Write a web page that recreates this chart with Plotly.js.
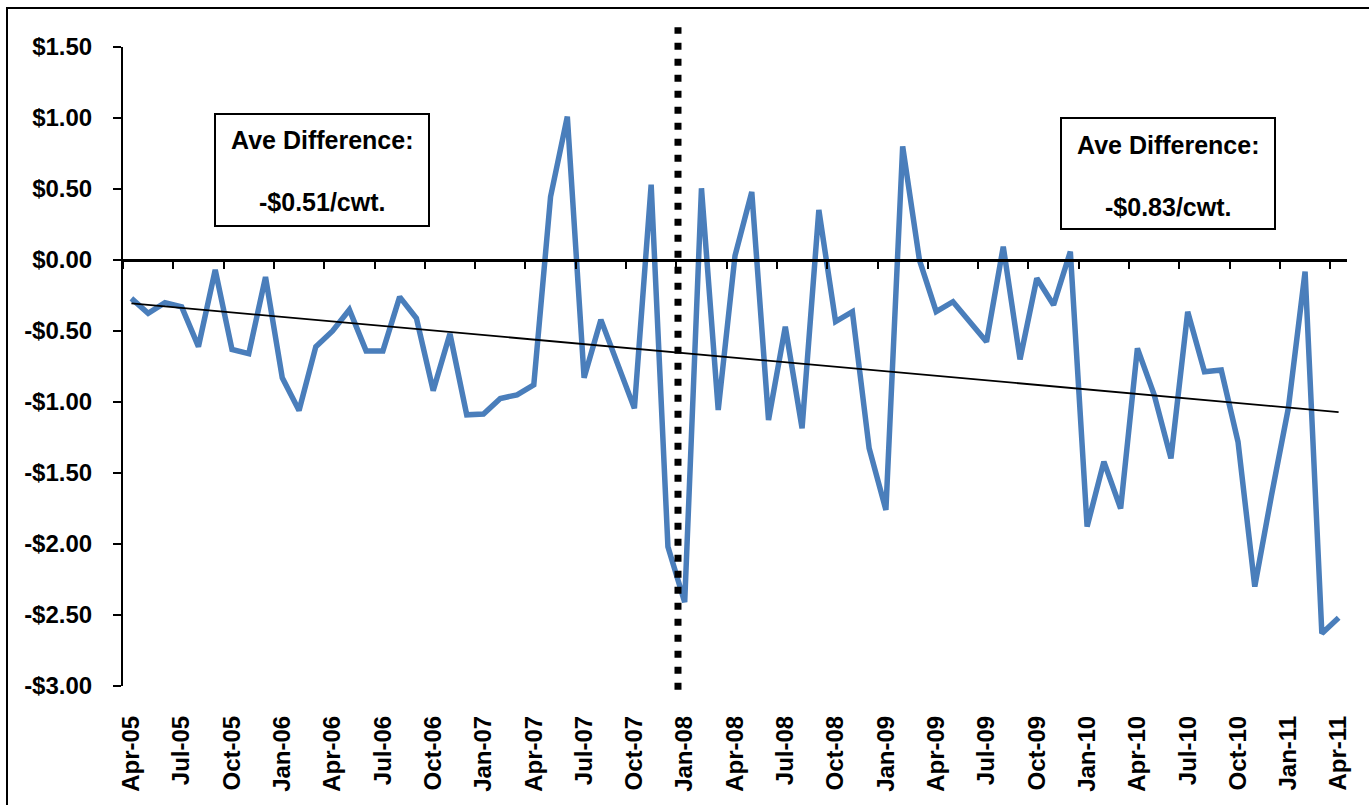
<!DOCTYPE html>
<html>
<head>
<meta charset="utf-8">
<script src="https://cdn.plot.ly/plotly-3.0.1.min.js"></script>
<style>html,body{margin:0;padding:0;background:#fff;}</style>
</head>
<body>
<div id="chart" style="width:1369px;height:805px;"></div>
<script>
// Months Apr-05 .. Apr-11
const months = [
  "Apr-05","May-05","Jun-05","Jul-05","Aug-05","Sep-05","Oct-05","Nov-05","Dec-05",
  "Jan-06","Feb-06","Mar-06","Apr-06","May-06","Jun-06","Jul-06","Aug-06","Sep-06","Oct-06","Nov-06","Dec-06",
  "Jan-07","Feb-07","Mar-07","Apr-07","May-07","Jun-07","Jul-07","Aug-07","Sep-07","Oct-07","Nov-07","Dec-07",
  "Jan-08","Feb-08","Mar-08","Apr-08","May-08","Jun-08","Jul-08","Aug-08","Sep-08","Oct-08","Nov-08","Dec-08",
  "Jan-09","Feb-09","Mar-09","Apr-09","May-09","Jun-09","Jul-09","Aug-09","Sep-09","Oct-09","Nov-09","Dec-09",
  "Jan-10","Feb-10","Mar-10","Apr-10","May-10","Jun-10","Jul-10","Aug-10","Sep-10","Oct-10","Nov-10","Dec-10",
  "Jan-11","Feb-11","Mar-11","Apr-11"
];
// Price difference, $/cwt
const diffValues = [
  -0.27, -0.375, -0.30, -0.33, -0.61, -0.07, -0.63, -0.66, -0.12,
  -0.83, -1.06, -0.61, -0.50, -0.35, -0.64, -0.64, -0.26, -0.41, -0.92, -0.52, -1.09,
  -1.085, -0.975, -0.95, -0.88, 0.445, 1.01, -0.83, -0.42, -0.73, -1.045, 0.53, -2.02,
  -2.41, 0.505, -1.056, 0.03, 0.48, -1.127, -0.47, -1.185, 0.352, -0.434, -0.364, -1.326,
  -1.76, 0.80, 0.0, -0.364, -0.294, -0.434, -0.575, 0.094, -0.70, -0.129, -0.317, 0.059,
  -1.878, -1.42, -1.75, -0.622, -0.95, -1.397, -0.364, -0.787, -0.775, -1.28, -2.30, -1.655,
  -1.045, -0.082, -2.63, -2.52
];
const xTickLabels = ["Apr-05","Jul-05","Oct-05","Jan-06","Apr-06","Jul-06","Oct-06","Jan-07","Apr-07",
  "Jul-07","Oct-07","Jan-08","Apr-08","Jul-08","Oct-08","Jan-09","Apr-09","Jul-09","Oct-09",
  "Jan-10","Apr-10","Jul-10","Oct-10","Jan-11","Apr-11"];
const yTickValues = [1.5, 1.0, 0.5, 0.0, -0.5, -1.0, -1.5, -2.0, -2.5, -3.0];
const yTickLabels = ["$1.50","$1.00","$0.50","$0.00","-$0.50","-$1.00","-$1.50","-$2.00","-$2.50","-$3.00"];
const boxLabel = "Ave Difference:";
const aveBefore = "-$0.51/cwt.";
const aveAfter = "-$0.83/cwt.";
const dividerMonth = "Jan-08";

const xIdx = months.map((m, i) => i);
const tickIdx = xTickLabels.map(l => months.indexOf(l));

// Linear trendline (least squares)
const n = diffValues.length;
const mx = xIdx.reduce((a, b) => a + b, 0) / n;
const my = diffValues.reduce((a, b) => a + b, 0) / n;
let sxy = 0, sxx = 0;
for (let i = 0; i < n; i++) { sxy += (xIdx[i] - mx) * (diffValues[i] - my); sxx += (xIdx[i] - mx) ** 2; }
const slope = sxy / sxx, icpt = my - slope * mx;
const trendY = [icpt + slope * xIdx[0], icpt + slope * xIdx[n - 1]];

const fontFam = "Arial, 'Liberation Sans', sans-serif";
const divX = months.indexOf(dividerMonth) - 0.4;
const boxFont = { family: fontFam, size: 25, color: '#000', weight: 'bold' };

const traces = [
  { x: xIdx, y: diffValues, type: 'scatter', mode: 'lines', xaxis: 'x', yaxis: 'y',
    line: { color: '#4A7EBB', width: 5.5 }, hoverinfo: 'text+y', text: months, showlegend: false },
  { x: [xIdx[0], xIdx[n - 1]], y: trendY, type: 'scatter', mode: 'lines', xaxis: 'x2', yaxis: 'y',
    line: { color: '#000', width: 1.8 }, showlegend: false, hoverinfo: 'skip' }
];

const layout = {
  width: 1369, height: 805,
  margin: { l: 123, r: 22, t: 47, b: 119 },
  paper_bgcolor: '#fff', plot_bgcolor: '#fff',
  showlegend: false,
  xaxis: {
    range: [-0.5, 72.5], tickvals: tickIdx, ticktext: xTickLabels, tickangle: -90,
    showline: false, ticks: '', showgrid: false, zeroline: false,
    ticklabelstandoff: 24,
    tickfont: { family: fontFam, size: 24, color: '#000', weight: 'bold' }
  },
  xaxis2: {
    overlaying: 'x', anchor: 'free', position: 3 / 4.5, range: [-0.5, 72.5],
    showline: true, linecolor: '#000', linewidth: 3,
    ticks: 'outside', tick0: -0.5, dtick: 3, ticklen: 7, tickwidth: 2, tickcolor: '#000',
    showticklabels: false, showgrid: false, zeroline: false
  },
  yaxis: {
    range: [-3, 1.5], tickvals: yTickValues, ticktext: yTickLabels,
    showline: true, linecolor: '#000', linewidth: 2,
    ticks: 'outside', ticklen: 8, tickwidth: 2, tickcolor: '#000',
    showgrid: false, zeroline: false, ticklabelstandoff: 16,
    tickfont: { family: fontFam, size: 24, color: '#000', weight: 'bold' }
  },
  shapes: [
    // outer frame
    { type: 'rect', xref: 'paper', yref: 'paper', x0: -116 / 1224, x1: 1260 / 1224, y0: -140 / 639, y1: 678 / 639,
      line: { color: '#000', width: 2 }, layer: 'below' },
    // divider
    { type: 'line', xref: 'x', yref: 'paper', x0: divX, x1: divX, y0: -0.006, y1: 1.031,
      line: { color: '#000', width: 7, dash: '7px,9px' } },
    // left box
    { type: 'rect', xref: 'paper', yref: 'paper', x0: (215 - 123) / 1224, x1: (429 - 123) / 1224,
      y0: (686 - 226) / 639, y1: (686 - 114) / 639, line: { color: '#000', width: 2 }, fillcolor: '#fff' },
    // right box
    { type: 'rect', xref: 'paper', yref: 'paper', x0: (1061 - 123) / 1224, x1: (1275 - 123) / 1224,
      y0: (686 - 229) / 639, y1: (686 - 118) / 639, line: { color: '#000', width: 2 }, fillcolor: '#fff' }
  ],
  annotations: [
    { xref: 'paper', yref: 'paper', x: (322 - 123) / 1224, y: (686 - 140) / 639, text: boxLabel, showarrow: false,
      xanchor: 'center', yanchor: 'middle', font: boxFont },
    { xref: 'paper', yref: 'paper', x: (322 - 123) / 1224, y: (686 - 202) / 639, text: aveBefore, showarrow: false,
      xanchor: 'center', yanchor: 'middle', font: boxFont },
    { xref: 'paper', yref: 'paper', x: (1168 - 123) / 1224, y: (686 - 145) / 639, text: boxLabel, showarrow: false,
      xanchor: 'center', yanchor: 'middle', font: boxFont },
    { xref: 'paper', yref: 'paper', x: (1168 - 123) / 1224, y: (686 - 207) / 639, text: aveAfter, showarrow: false,
      xanchor: 'center', yanchor: 'middle', font: boxFont }
  ]
};

Plotly.newPlot('chart', traces, layout, { displayModeBar: false, staticPlot: true });
</script>
</body>
</html>
